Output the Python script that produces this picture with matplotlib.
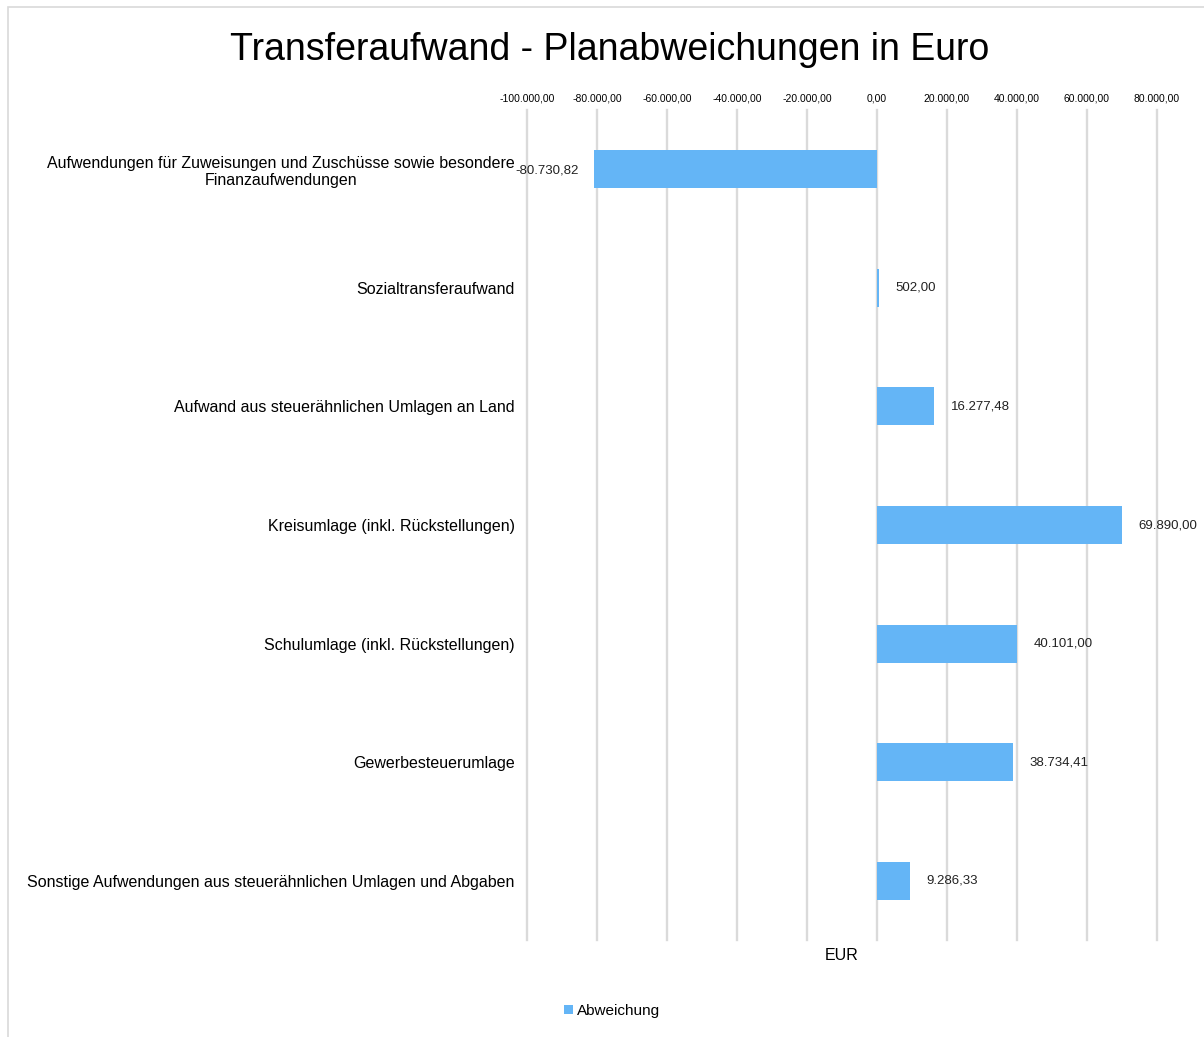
import matplotlib
matplotlib.use("Agg")
import matplotlib.pyplot as plt
from matplotlib.patches import Rectangle

plt.rcParams['font.family'] = ['Liberation Sans', 'DejaVu Sans']

# data
categories = [
    "Aufwendungen für Zuweisungen und Zuschüsse sowie besondere\nFinanzaufwendungen",
    "Sozialtransferaufwand",
    "Aufwand aus steuerähnlichen Umlagen an Land",
    "Kreisumlage (inkl. Rückstellungen)",
    "Schulumlage (inkl. Rückstellungen)",
    "Gewerbesteuerumlage",
    "Sonstige Aufwendungen aus steuerähnlichen Umlagen und Abgaben",
]
values = [-80730.82, 502.00, 16277.48, 69890.00, 40101.00, 38734.41, 9286.33]
ticks = [-100000, -80000, -60000, -40000, -20000, 0, 20000, 40000, 60000, 80000]
series_name = "Abweichung"
bar_color = "#64B5F6"


def de_fmt(v):
    s = f"{abs(v):,.2f}".replace(",", "X").replace(".", ",").replace("X", ".")
    return ("-" if v < 0 else "") + s


fig = plt.figure(figsize=(12.04, 10.37), dpi=100)
ax = fig.add_axes([527 / 1204, 1 - 940 / 1037, 630 / 1204, 830 / 1037])

# chart border
fig.patches.append(Rectangle((8 / 1204, -0.1), 1.2, 1 - 7 / 1037 + 0.1,
                             transform=fig.transFigure, fill=False,
                             edgecolor="#D9D9D9", linewidth=1.2))

y = list(range(len(categories)))
ax.barh(y, values, height=0.32, color=bar_color, zorder=3, label=series_name)

for yi, v in zip(y, values):
    if v < 0:
        ax.annotate(de_fmt(v), (v, yi), xytext=(-11, -1), textcoords="offset points",
                    ha="right", va="center", fontsize=9.5, color="#222222")
    else:
        ax.annotate(de_fmt(v), (v, yi), xytext=(12, 0), textcoords="offset points",
                    ha="left", va="center", fontsize=9.5, color="#222222")

ax.set_xlim(-100000, 80000)
ax.set_ylim(len(categories) - 0.5, -0.5)
ax.set_xticks(ticks)
ax.set_xticklabels([de_fmt(t) for t in ticks], fontsize=7.5)
ax.xaxis.tick_top()
ax.tick_params(axis="x", length=0, pad=5)
ax.set_yticks(y)
ax.set_yticklabels(categories, fontsize=11.5, multialignment="center")
ax.tick_params(axis="y", length=0, pad=9)
ax.grid(axis="x", color="#DADADA", linewidth=1.7, zorder=0)
for gl in ax.get_xgridlines():
    gl.set_clip_on(False)
for s in ax.spines.values():
    s.set_visible(False)

ax.set_xlabel("EUR", fontsize=11.5, labelpad=6)
ax.xaxis.set_label_position("bottom")

fig.text(610 / 1204, 1 - 50 / 1037, "Transferaufwand - Planabweichungen in Euro",
         ha="center", va="center", fontsize=27)

fig.legend(loc="center", bbox_to_anchor=(612 / 1204, 1 - 1011 / 1037), frameon=False,
           fontsize=11, handlelength=0.6, handleheight=0.6, handletextpad=0.3)

fig.savefig("out.png", dpi=100)
